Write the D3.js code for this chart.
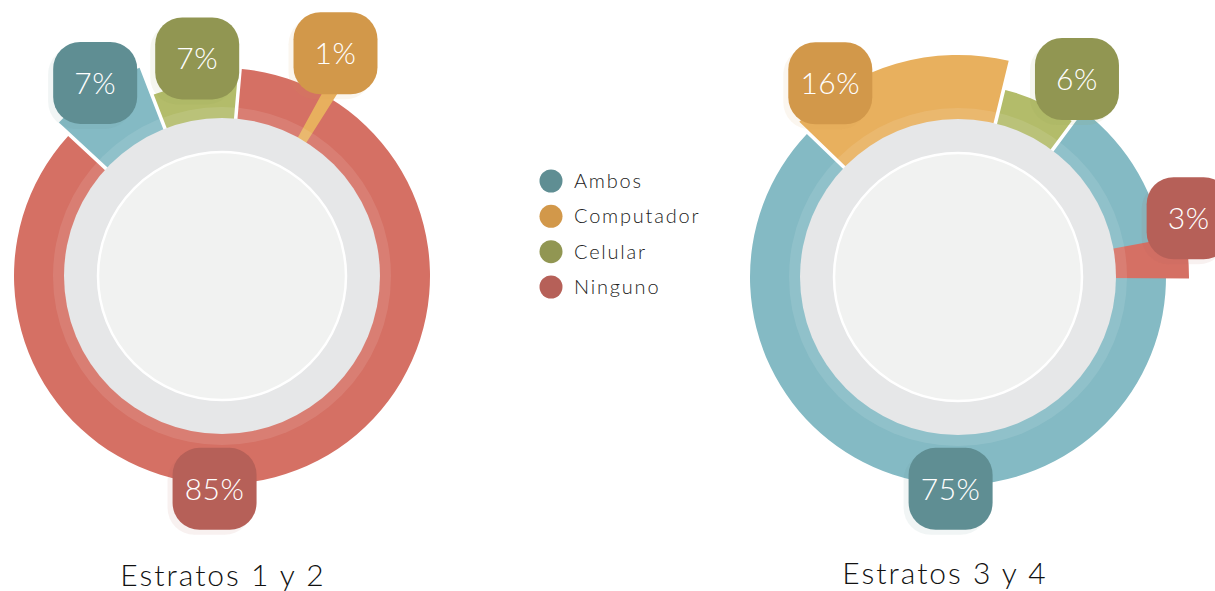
<!DOCTYPE html>
<html lang="es">
<head>
<meta charset="utf-8">
<title>Estratos</title>
<script src="https://d3js.org/d3.v7.min.js"></script>
<style>
  body { margin: 0; background: #fff; }
  svg text { font-family: Lato, "Noto Sans", sans-serif; font-weight: 300; }
</style>
</head>
<body>
<script>
// data
var categories = ["Ambos", "Computador", "Celular", "Ninguno"];
var chartTitles = ["Estratos 1 y 2", "Estratos 3 y 4"];
var valuesEstratos12 = [7, 1, 7, 85];
var valuesEstratos34 = [75, 16, 6, 3];
var chartValues = [valuesEstratos12, valuesEstratos34];

var sliceColor = d3.scaleOrdinal().domain(categories)
    .range(["#84bac4", "#e8b05e", "#b3bc6a", "#d57064"]);
var labelColor = d3.scaleOrdinal().domain(categories)
    .range(["#5f8e93", "#d2984a", "#919652", "#b66058"]);

var width = 1215, height = 591;
var deg = Math.PI / 180;
var angle = d3.scaleLinear().domain([0, 100]).range([0, 2 * Math.PI]);

// layout of each donut (angles in degrees, clockwise from 12 o'clock)
var layouts = [
  { cx: 222, cy: 276, titleX: 223, titleY: 586, start: -47.2,
    ring: ["Ambos", "Celular", "Ninguno"], overlay: "Computador", overlayAngle: 30.5,
    outer: { Ambos: 224, Computador: 240, Celular: 194, Ninguno: 208 },
    label: { Ambos: [326.7, 231], Computador: [27, 250], Celular: [353.5, 219], Ninguno: [182, 213] } },
  { cx: 958, cy: 277, titleX: 945, titleY: 584, start: -46.1,
    ring: ["Computador", "Celular", "Ambos"], overlay: "Ninguno", overlayAngle: 85,
    outer: { Ambos: 208, Computador: 222, Celular: 193, Ninguno: 231 },
    label: { Ambos: [182, 212], Computador: [326.6, 232], Celular: [31, 231], Ninguno: [75.7, 238] } }
];

var innerR = 150, bandR = 169, discR = 158, coreR = 124;
var boxW = 84, boxH = 82;

var svg = d3.select("body").append("svg")
    .attr("width", width)
    .attr("height", height);

layouts.forEach(function (L, ci) {
  var vals = chartValues[ci];
  var rows = categories.map(function (c, i) { return { cat: c, value: vals[i] }; });
  var byCat = {};
  rows.forEach(function (r) { byCat[r.cat] = r; });

  var g = svg.append("g")
    .attr("transform", "translate(" + L.cx + "," + L.cy + ")");

  var arc = d3.arc()
    .innerRadius(innerR)
    .outerRadius(function (d) { return L.outer[d.data.cat]; });

  var pie = d3.pie()
    .sort(null)
    .value(function (d) { return d.value; })
    .startAngle(L.start * deg)
    .endAngle(L.start * deg + 2 * Math.PI)
    .padAngle(0.014);

  var ringData = pie(L.ring.map(function (c) { return byCat[c]; }));

  g.selectAll("path.slice")
    .data(ringData)
    .enter()
    .append("path")
    .attr("class", "slice")
    .attr("d", arc)
    .attr("fill", function (d) { return sliceColor(d.data.cat); });

  // small slice laid over the big one
  var ov = byCat[L.overlay];
  var half = angle(ov.value) / 2;
  g.append("path")
    .datum({ data: ov, startAngle: L.overlayAngle * deg - half, endAngle: L.overlayAngle * deg + half })
    .attr("d", arc)
    .attr("fill", sliceColor(ov.cat));

  // lighter band, grey disc and inner disc
  g.append("circle").attr("r", bandR).attr("fill", "#fff").attr("fill-opacity", 0.1);
  g.append("circle").attr("r", discR).attr("fill", "#e6e7e8");
  g.append("circle").attr("r", coreR).attr("fill", "#f1f2f1")
    .attr("stroke", "#fff").attr("stroke-width", 2.5);

  // value labels
  rows.forEach(function (r) {
    var p = L.label[r.cat];
    var x = p[1] * Math.sin(p[0] * deg), y = -p[1] * Math.cos(p[0] * deg);
    var lg = g.append("g").attr("transform", "translate(" + x + "," + y + ")");
    lg.append("rect")
      .attr("x", -boxW / 2 - 5).attr("y", -boxH / 2 + 5)
      .attr("width", boxW).attr("height", boxH)
      .attr("rx", 27)
      .attr("fill", labelColor(r.cat)).attr("fill-opacity", 0.09);
    lg.append("rect")
      .attr("x", -boxW / 2).attr("y", -boxH / 2)
      .attr("width", boxW).attr("height", boxH)
      .attr("rx", 27)
      .attr("fill", labelColor(r.cat));
    lg.append("text")
      .attr("text-anchor", "middle")
      .attr("y", 11)
      .attr("fill", "#fff")
      .attr("font-size", "30px")
      .attr("letter-spacing", "0.5px")
      .text(r.value + "%");
  });

  svg.append("text")
    .attr("x", L.titleX)
    .attr("y", L.titleY)
    .attr("text-anchor", "middle")
    .attr("font-size", "30px")
    .attr("letter-spacing", "2px")
    .attr("fill", "#111")
    .text(chartTitles[ci]);
});

// legend
var legend = svg.append("g").attr("transform", "translate(551,181)");
var ly = d3.scalePoint().domain(categories).range([0, 106]);
var item = legend.selectAll("g")
  .data(categories)
  .enter()
  .append("g")
  .attr("transform", function (d) { return "translate(0," + ly(d) + ")"; });
item.append("circle").attr("r", 11.5).attr("fill", function (d) { return labelColor(d); });
item.append("text")
  .attr("x", 23)
  .attr("y", 7)
  .attr("font-size", "20px")
  .attr("letter-spacing", "1.8px")
  .attr("fill", "#222")
  .text(function (d) { return d; });
</script>
</body>
</html>
